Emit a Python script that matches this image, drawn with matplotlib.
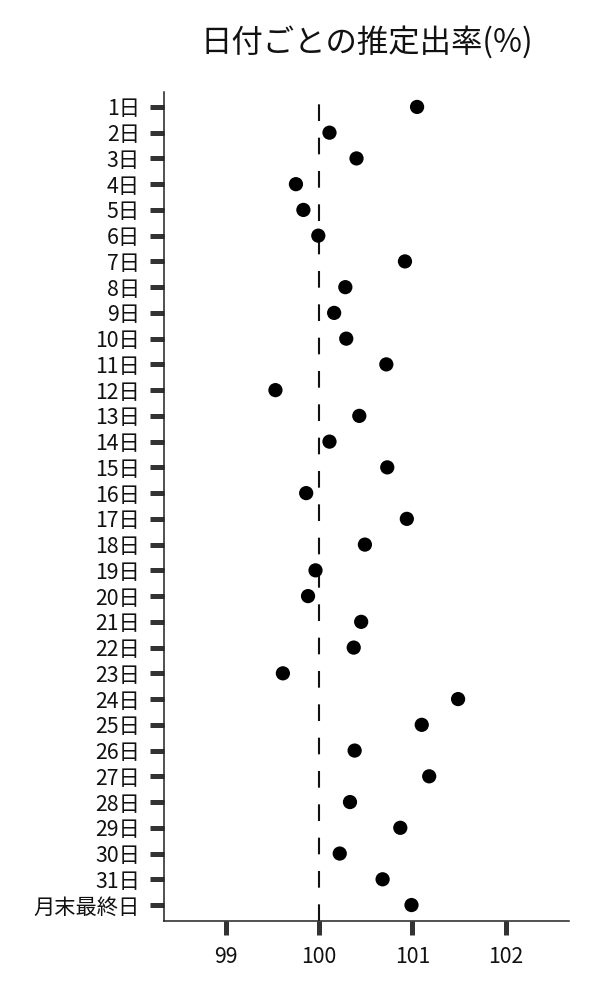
import numpy as np
import matplotlib
matplotlib.use("Agg")
import matplotlib.pyplot as plt

plt.rcParams['font.family'] = ['Noto Sans CJK JP', 'DejaVu Sans']

# 日付ラベルと推定出率
days = [f"{i}日" for i in range(1, 32)] + ["月末最終日"]
rates = [101.05, 100.11, 100.40, 99.75, 99.83, 99.99, 100.92, 100.28,
         100.16, 100.29, 100.72, 99.53, 100.43, 100.11, 100.73, 99.86,
         100.94, 100.49, 99.96, 99.88, 100.45, 100.37, 99.61, 101.49,
         101.10, 100.38, 101.18, 100.33, 100.87, 100.22, 100.68, 100.99]
xticks = [99, 100, 101, 102]
baseline = 100

fig = plt.figure(figsize=(6, 10), dpi=100)
ax = fig.add_axes([0.2733, 0.079, 0.675, 0.829])

ypos = np.arange(len(days))
ax.axvline(baseline, color='#111111', lw=1.5, ls=(0, (8, 8)), zorder=1)
ax.scatter(rates, ypos, s=105, color='black', edgecolors='none', zorder=3)

ax.set_yticks(ypos)
ax.set_yticklabels(days)
ax.set_xticks(xticks)
ax.set_xticklabels([str(t) for t in xticks])
ax.set_xlim(98.334, 102.68)
ax.set_ylim(31.62, -0.58)

for side in ('top', 'right'):
    ax.spines[side].set_visible(False)
for side in ('left', 'bottom'):
    ax.spines[side].set_linewidth(1.1)
    ax.spines[side].set_color('#222222')

ax.tick_params(axis='both', direction='out', length=10.3, width=3.6,
               color='#333333', labelsize=15.3, labelcolor='#111111')
ax.tick_params(axis='y', pad=7)
ax.tick_params(axis='x', pad=8)

fig.text(0.612, 0.958, '日付ごとの推定出率(%)', ha='center', va='center',
         fontsize=22.6, color='#111111')

fig.savefig('out.png', dpi=100)
